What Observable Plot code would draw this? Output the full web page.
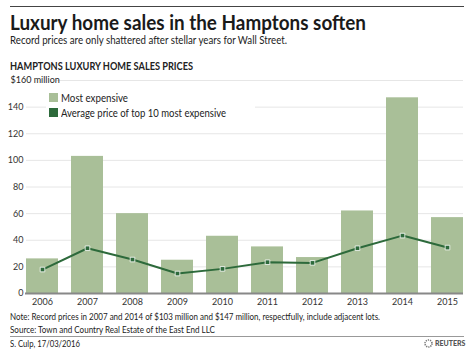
<!DOCTYPE html>
<html>
<head>
<meta charset="utf-8">
<script src="https://cdn.jsdelivr.net/npm/d3@7"></script>
<script src="https://cdn.jsdelivr.net/npm/@observablehq/plot@0.6"></script>
<style>
  html, body { margin: 0; padding: 0; background: #fff; }
  body { width: 473px; height: 355px; position: relative; overflow: hidden; font-family: Lato, "Noto Sans", sans-serif; color: #222; }
  .abs { position: absolute; white-space: nowrap; line-height: 1; transform-origin: 0 50%; }
  #chart { position: absolute; left: 0; top: 74px; }
  #legend { position: absolute; left: 46px; top: 89px; background: #fff; padding: 1px 3px; font-size: 11px; color: #222; }
  #legend div { display: flex; align-items: center; height: 15px; }
  #legend span.sw { display: inline-block; width: 9px; height: 9px; margin-right: 3px; }
  #legend span.tx { display: inline-block; white-space: nowrap; transform-origin: 0 50%; }
</style>
</head>
<body>
<div class="abs" style="left:10px;top:6px;width:454px;height:0;border-top:1.5px solid #444;"></div>
<div class="abs fit" data-w="356" style="left:10px;top:12px;font-size:20px;font-weight:700;color:#1a1a1a;">Luxury home sales in the Hamptons soften</div>
<div class="abs fit" data-w="277" style="left:10px;top:35px;font-size:10.5px;">Record prices are only shattered after stellar years for Wall Street.</div>
<div class="abs fit" data-w="183" style="left:10px;top:61px;font-size:10.5px;font-weight:700;">HAMPTONS LUXURY HOME SALES PRICES</div>
<div id="chart"></div>
<div id="legend"></div>
<div class="abs fit" data-w="370" style="left:10px;top:312px;font-size:9.5px;">Note: Record prices in 2007 and 2014 of $103 million and $147 million, respectfully, include adjacent lots.</div>
<div class="abs fit" data-w="205" style="left:10px;top:325px;font-size:9.5px;">Source: Town and Country Real Estate of the East End LLC</div>
<div class="abs" style="left:10px;top:336px;width:454px;height:0;border-top:1px solid #999;"></div>
<div class="abs fit" data-w="70" style="left:10px;top:339px;font-size:9.5px;">S. Culp, 17/03/2016</div>
<div class="abs" style="left:424px;top:339px;font-size:7px;font-weight:900;color:#555;display:flex;align-items:center;">
  <svg width="9" height="9" style="margin-right:2px"><circle cx="4.5" cy="4.5" r="3.5" fill="none" stroke="#777" stroke-width="1.6" stroke-dasharray="1.2 1"/></svg>REUTERS
</div>
<script>
const years = ["2006","2007","2008","2009","2010","2011","2012","2013","2014","2015"];
const mostExpensive = [26, 103, 60, 25, 43, 35, 27, 62, 147, 57];
const averageTop10 = [18, 34, 25.5, 15, 18.5, 23.5, 23, 34, 43.5, 34.5];
const yTicks = [0, 20, 40, 60, 80, 100, 120, 140];
const topTick = 160;
const topTickLabel = "$160 million";
const legendLabels = ["Most expensive", "Average price of top 10 most expensive"];

const barColor = "#a9bf98";
const lineColor = "#2d6a3b";

const data = years.map((y, i) => ({year: y, most: mostExpensive[i], avg: averageTop10[i]}));

const chart = Plot.plot({
  width: 473,
  height: 236,
  marginTop: 6,
  marginBottom: 17,
  marginLeft: 26,
  marginRight: 10,
  style: {fontFamily: "Lato, 'Noto Sans', sans-serif", fontSize: "9px", color: "#333", background: "transparent"},
  x: {domain: years, paddingInner: 0.29, paddingOuter: 0, align: 0.5, label: null},
  y: {domain: [0, topTick], label: null},
  marks: [
    Plot.gridY(yTicks.filter(d => d > 0), {stroke: "#e6e6e6", strokeOpacity: 1}),
    Plot.ruleY([topTick], {stroke: "#e6e6e6", insetLeft: 30}),
    Plot.text([topTick], {y: d => d, text: () => topTickLabel, frameAnchor: "left", textAnchor: "start", dx: -16, fill: "#222", fontSize: 9}),
    Plot.axisY(yTicks, {tickSize: 0, tickPadding: 3, fill: "#333", label: null}),
    Plot.barY(data, {x: "year", y: "most", fill: barColor}),
    Plot.ruleY([0], {stroke: "#888", strokeWidth: 2, insetLeft: -1}),
    Plot.axisX({tickSize: 0, tickPadding: 5, fill: "#333", label: null}),
    Plot.line(data, {x: "year", y: "avg", stroke: lineColor, strokeWidth: 2}),
    Plot.dot(data, {x: "year", y: "avg", symbol: "square", r: 2.6, fill: lineColor, stroke: "#fff", strokeWidth: 0.8})
  ]
});
document.getElementById("chart").appendChild(chart);

const legend = document.getElementById("legend");
[[legendLabels[0], barColor, 67], [legendLabels[1], lineColor, 165]].forEach(([t, c, w]) => {
  const row = document.createElement("div");
  row.innerHTML = `<span class="sw" style="background:${c}"></span><span class="tx fit" data-w="${w}">${t}</span>`;
  legend.appendChild(row);
});

document.querySelectorAll(".fit").forEach(el => {
  const target = +el.dataset.w;
  const w = el.getBoundingClientRect().width;
  if (w > 0) el.style.transform = `scaleX(${(target / w).toFixed(4)})`;
});
</script>
</body>
</html>
